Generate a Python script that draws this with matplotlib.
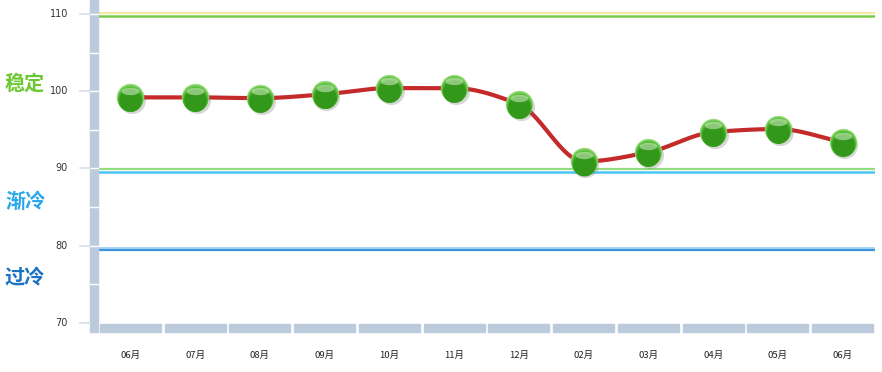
import numpy as np
import matplotlib
matplotlib.use("Agg")
import matplotlib.pyplot as plt
from matplotlib.patches import Rectangle
from matplotlib import transforms

plt.rcParams['font.family'] = ['Noto Sans CJK SC', 'DejaVu Sans']

months = ['06月', '07月', '08月', '09月', '10月', '11月', '12月',
          '02月', '03月', '04月', '05月', '06月']
values = [99.2, 99.2, 99.1, 99.6, 100.4, 100.4, 98.3, 90.9, 92.1, 94.7, 95.1, 93.4]
yticks = [70, 80, 90, 100, 110]
zone_names = ['稳定', '渐冷', '过冷']
zone_colors = ['#6cc832', '#2aa8ec', '#1a72c4']


def monotone_spline(x, y, n=30):
    # Fritsch-Carlson monotone cubic, close to the original smooth line
    x = np.asarray(x, float)
    y = np.asarray(y, float)
    h = np.diff(x)
    d = np.diff(y) / h
    m = np.zeros_like(y)
    m[0], m[-1] = d[0], d[-1]
    for i in range(1, len(y) - 1):
        if d[i - 1] * d[i] <= 0:
            m[i] = 0
        else:
            m[i] = 2 / (1 / d[i - 1] + 1 / d[i])
    xs, ys = [], []
    for i in range(len(x) - 1):
        t = np.linspace(0, 1, n)
        h00 = 2 * t**3 - 3 * t**2 + 1
        h10 = t**3 - 2 * t**2 + t
        h01 = -2 * t**3 + 3 * t**2
        h11 = t**3 - t**2
        xs.append(x[i] + t * h[i])
        ys.append(h00 * y[i] + h10 * h[i] * m[i] + h01 * y[i + 1] + h11 * h[i] * m[i + 1])
    return np.concatenate(xs), np.concatenate(ys)


fig = plt.figure(figsize=(8.82, 3.72), dpi=100)
ax = fig.add_axes([98 / 882, 49 / 372, 777 / 882, 323 / 372])
ax.set_xlim(-0.5, len(months) - 0.5)
ax.set_ylim(70, 111.8)
for s in ax.spines.values():
    s.set_visible(False)
ax.set_xticks([])
ax.set_yticks([])

# threshold bands
ax.axhline(110.15, color='#f3e9a0', lw=1.6, zorder=1)
ax.axhline(109.75, color='#7acb4c', lw=1.8, zorder=1)
ax.axhline(89.95, color='#95dc80', lw=1.6, zorder=1)
ax.axhline(89.6, color='#4cc4f2', lw=1.8, zorder=1)
ax.axhline(79.75, color='#a8d6f4', lw=1.4, zorder=1)
ax.axhline(79.45, color='#3f92dc', lw=1.6, zorder=1)

# left grey bar with ticks
ytr = ax.get_yaxis_transform()
bar_w = 8 / 777
ax.add_patch(Rectangle((-bar_w, 70), bar_w, 41.8, transform=ytr, color='#bccbdb',
                       clip_on=False, zorder=2))
ax.add_patch(Rectangle((-bar_w, -9 / 323), bar_w, 8 / 323, transform=ax.transAxes,
                       color='#bccbdb', clip_on=False, zorder=2))
for v in range(75, 111, 5):
    ax.plot([-bar_w, 0], [v, v], transform=ytr, color='white', lw=1, clip_on=False, zorder=3)
for v in yticks:
    ax.plot([-18 / 777, -bar_w], [v, v], transform=ytr, color='#d5dee8', lw=1.2,
            clip_on=False, zorder=3)
    ax.text(-30 / 777, v, str(v), transform=ytr, ha='right', va='center',
            fontsize=7, color='#333333', family='DejaVu Sans')

# bottom segmented bar
xtr = ax.get_xaxis_transform()
for i, m in enumerate(months):
    ax.add_patch(Rectangle((i - 0.5 + 0.03, -9 / 323), 0.94, 8 / 323, transform=xtr,
                           color='#bccbdb', clip_on=False, zorder=2))
    ax.text(i, -32 / 323, m, transform=xtr, ha='center', va='center',
            fontsize=6.8, color='#222222')

# zone labels
zone_y = [101.0, 85.8, 75.8]
for name, c, yv in zip(zone_names, zone_colors, zone_y):
    ax.text(-93 / 777, yv, name, transform=ytr, ha='left', va='center',
            fontsize=14.5, fontweight='bold', color=c)

# smooth line
x = np.arange(len(values))
sx, sy = monotone_spline(x, values)
ax.plot(sx, sy, color='#c42a2a', lw=3, solid_capstyle='round', zorder=4)

# glossy green balls
shadow = transforms.offset_copy(ax.transData, fig=fig, x=1.2, y=-1.8, units='points')
ax.scatter(x, values, s=380, color='#6f6f6f', alpha=0.28, lw=0, transform=shadow, zorder=5)
ax.scatter(x, values, s=370, color='#7fd462', edgecolors='#a6e08a', lw=0.5, zorder=6)
shades = ['#6cc84e', '#5bbd3e', '#4bb030', '#3ea424', '#33971a']
sizes = [350, 325, 300, 275, 250]
for k, (c, sz) in enumerate(zip(shades, sizes)):
    off = transforms.offset_copy(ax.transData, fig=fig, x=0, y=-0.45 * (k + 1), units='points')
    ax.scatter(x, values, s=sz, color=c, lw=0, transform=off, zorder=7 + k)
t = np.linspace(0, 2 * np.pi, 40)
ell = np.column_stack([np.cos(t), 0.42 * np.sin(t)])
hi = transforms.offset_copy(ax.transData, fig=fig, x=0, y=4.8, units='points')
ax.scatter(x, values, s=160, marker=ell, color='#e4f8d8', alpha=0.5, lw=0,
           transform=hi, zorder=13)

fig.savefig('out.png', dpi=100)
